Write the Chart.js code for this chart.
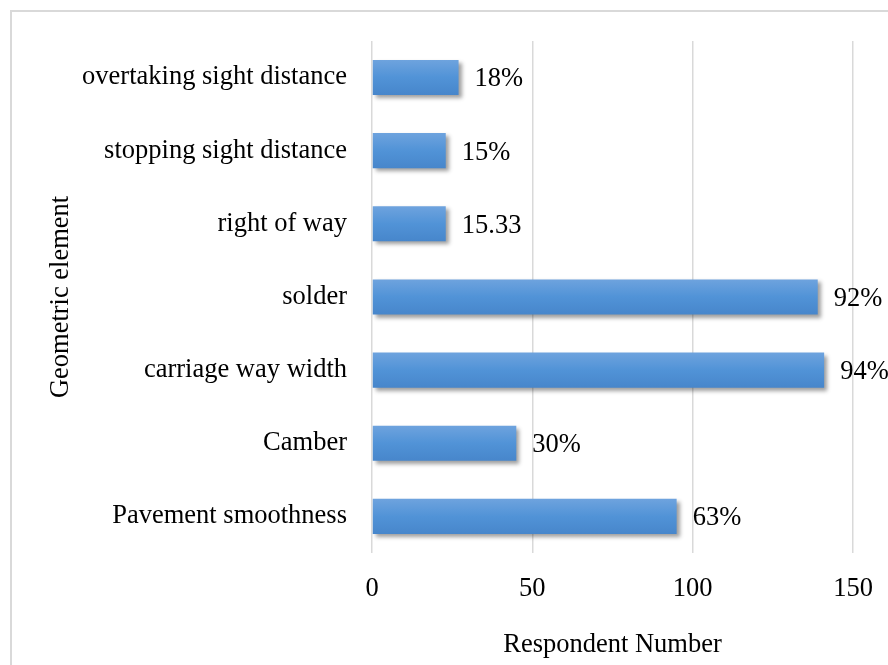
<!DOCTYPE html>
<html>
<head>
<meta charset="utf-8">
<script src="https://cdn.jsdelivr.net/npm/chart.js@4/dist/chart.umd.min.js"></script>
<style>
  html, body { margin: 0; padding: 0; background: #fff; }
  #wrap { width: 888px; height: 665px; position: relative; }
</style>
</head>
<body>
<div id="wrap"><canvas id="c" width="888" height="665"></canvas></div>
<script>
const categories = [
  'overtaking sight distance',
  'stopping sight distance',
  'right of way',
  'solder',
  'carriage way width',
  'Camber',
  'Pavement smoothness'
];
const respondents = [27, 23, 23, 139, 141, 45, 95];
const valueLabels = ['18%', '15%', '15.33', '92%', '94%', '30%', '63%'];
const xTicks = [0, 50, 100, 150];
const xTitle = 'Respondent Number';
const yTitle = 'Geometric element';

const FONT = "'Liberation Serif', 'Times New Roman', serif";
const FS = 26.5;
const BAR_PCT = 0.48;

function barGradient(context) {
  const chart = context.chart;
  const y = chart.scales && chart.scales.y;
  const area = chart.chartArea;
  if (!y || !area || context.dataIndex === undefined) return '#5093d6';
  const c = y.getPixelForValue(context.dataIndex);
  const step = (area.bottom - area.top) / categories.length;
  const h = step * BAR_PCT;
  if (!isFinite(c) || !isFinite(h) || h <= 0) return '#5093d6';
  const g = chart.ctx.createLinearGradient(0, c - h / 2, 0, c + h / 2);
  g.addColorStop(0, '#6ea3de');
  g.addColorStop(0.5, '#5193d7');
  g.addColorStop(1, '#4786cb');
  return g;
}

const framePlugin = {
  id: 'frame',
  beforeDraw(chart) {
    const ctx = chart.ctx;
    ctx.save();
    ctx.fillStyle = '#ffffff';
    ctx.fillRect(0, 0, chart.width, chart.height);
    ctx.strokeStyle = '#d9d9d9';
    ctx.lineWidth = 2;
    ctx.strokeRect(11, 11, chart.width + 20, chart.height + 20);
    ctx.restore();
  }
};

const shadowPlugin = {
  id: 'barShadow',
  beforeDatasetsDraw(chart) {
    const ctx = chart.ctx;
    ctx.save();
    ctx.shadowColor = 'rgba(0,0,0,0.38)';
    ctx.shadowBlur = 4;
    ctx.shadowOffsetX = 3;
    ctx.shadowOffsetY = 3;
  },
  afterDatasetsDraw(chart) {
    chart.ctx.restore();
  }
};

const labelPlugin = {
  id: 'valueLabels',
  afterDatasetsDraw(chart) {
    const ctx = chart.ctx;
    const meta = chart.getDatasetMeta(0);
    ctx.save();
    ctx.font = FS + 'px ' + FONT;
    ctx.fillStyle = '#000';
    ctx.textAlign = 'left';
    ctx.textBaseline = 'middle';
    meta.data.forEach((bar, i) => {
      ctx.fillText(valueLabels[i], bar.x + 16, bar.y + 2);
    });
    ctx.restore();
  }
};

new Chart(document.getElementById('c'), {
  type: 'bar',
  data: {
    labels: categories,
    datasets: [{
      data: respondents,
      backgroundColor: barGradient,
      borderWidth: 0,
      barPercentage: BAR_PCT,
      categoryPercentage: 1
    }]
  },
  options: {
    indexAxis: 'y',
    responsive: false,
    animation: false,
    devicePixelRatio: 1,
    layout: { padding: { top: 40, right: 35, left: 0, bottom: 0 } },
    plugins: {
      legend: { display: false },
      tooltip: { enabled: false }
    },
    scales: {
      x: {
        min: 0,
        max: 150,
        afterBuildTicks(scale) { scale.ticks = xTicks.map(v => ({ value: v })); },
        afterFit(scale) {
          scale.height = 112;
          scale.paddingLeft = 0;
          scale.paddingRight = 0;
        },
        grid: { color: '#d9d9d9', lineWidth: 1.5, drawTicks: false },
        border: { display: false },
        ticks: {
          padding: 20,
          color: '#000',
          font: { family: FONT, size: FS }
        },
        title: {
          display: true,
          text: xTitle,
          color: '#000',
          font: { family: FONT, size: FS },
          padding: { top: 0, bottom: 4 }
        }
      },
      y: {
        afterFit(scale) { scale.width = 372; },
        grid: { display: false, drawTicks: false },
        border: { display: false },
        ticks: {
          autoSkip: false,
          padding: 25,
          color: '#000',
          font: { family: FONT, size: FS }
        },
        title: {
          display: true,
          text: yTitle,
          color: '#000',
          font: { family: FONT, size: FS },
          padding: { top: 45, bottom: 0 }
        }
      }
    }
  },
  plugins: [framePlugin, shadowPlugin, labelPlugin]
});
</script>
</body>
</html>
